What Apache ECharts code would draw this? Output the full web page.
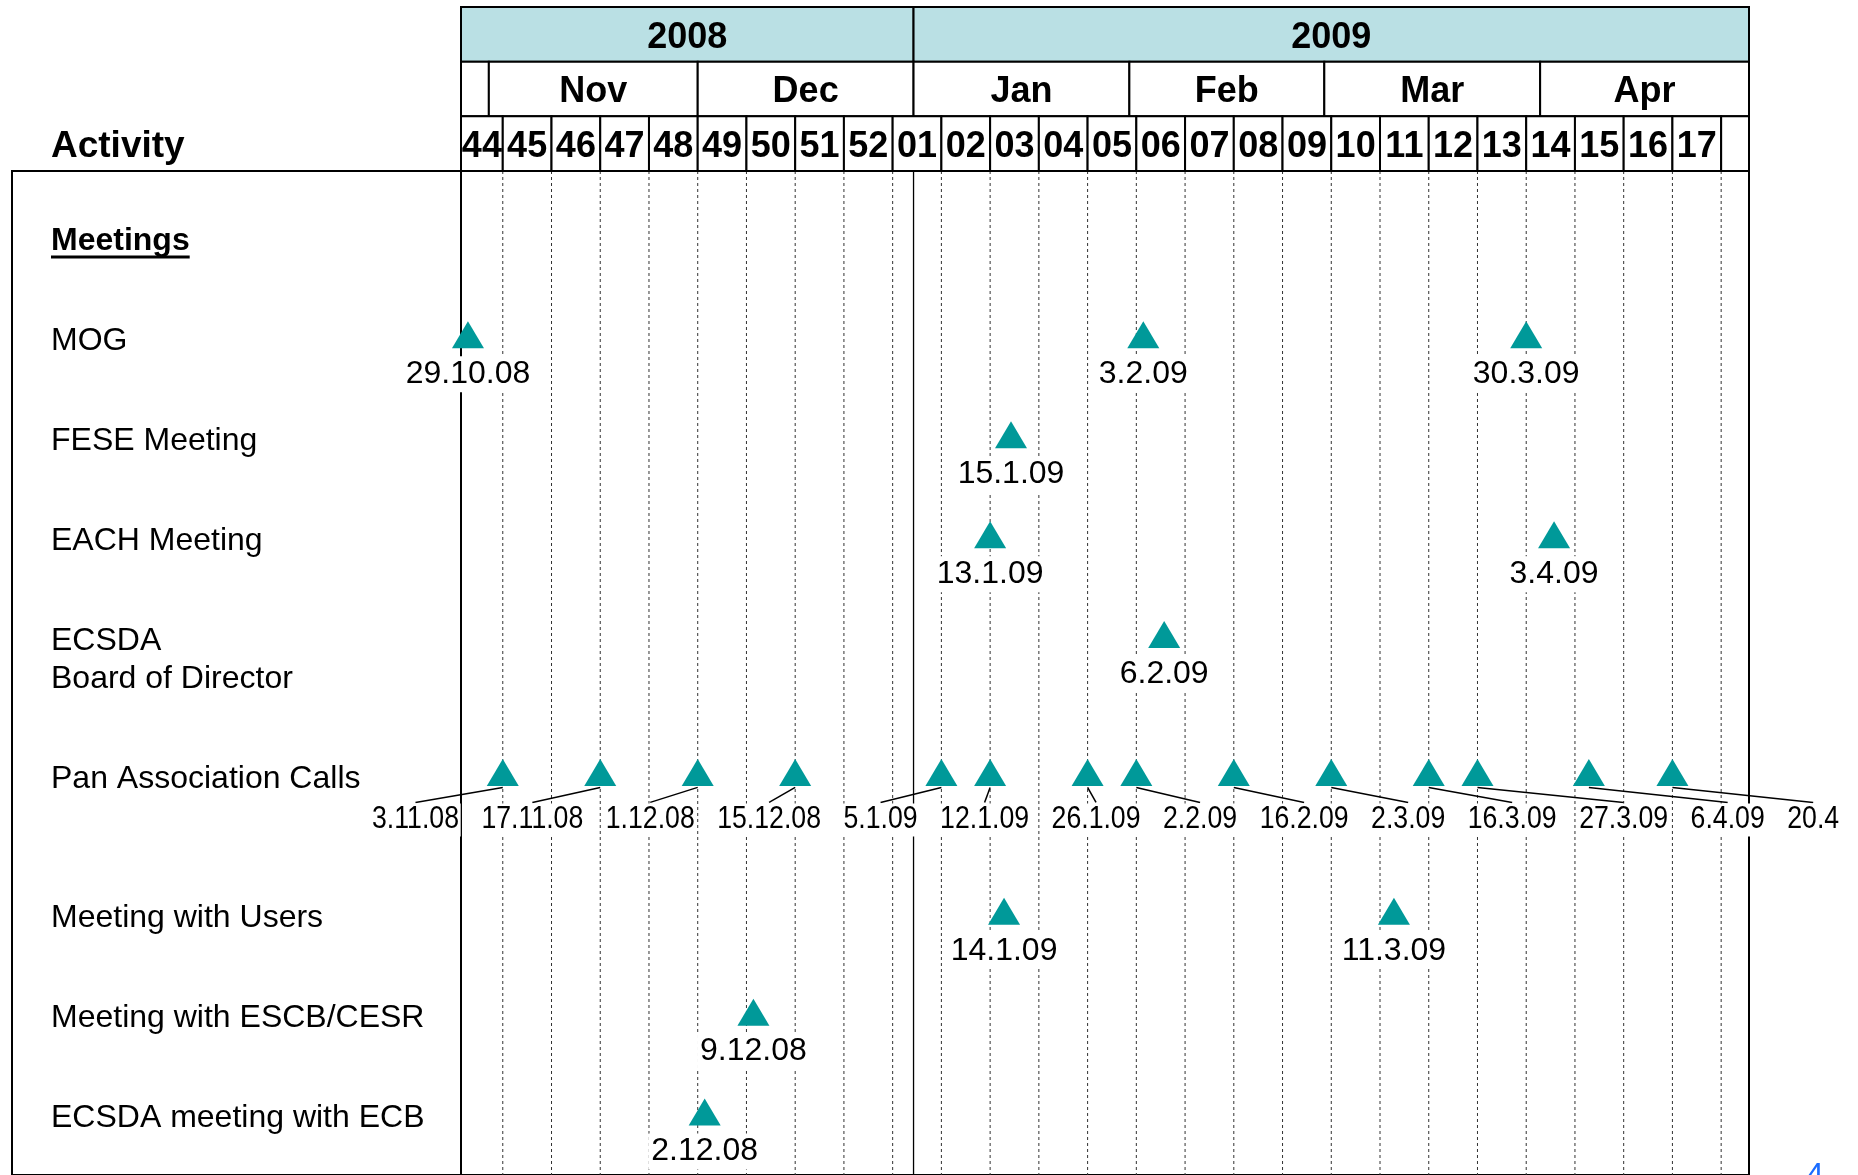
<!DOCTYPE html>
<html>
<head>
<meta charset="utf-8">
<title>Meetings timeline 2008-2009</title>
<script src="https://cdn.jsdelivr.net/npm/echarts@6.0.0/dist/echarts.min.js"></script>
<style>
html, body { margin: 0; padding: 0; background: #fff; }
#main { width: 1858px; height: 1175px; }
</style>
</head>
<body>
<div id="main"></div>
<script>
// time span of the chart
var axisStart = '2008-10-28';
var axisEnd = '2009-05-01';

// header cells: [label, from, to]
var years = [['2008', '2008-10-28', '2009-01-01'], ['2009', '2009-01-01', '2009-05-01']];
var months = [
  ['', '2008-10-28', '2008-11-01'], ['Nov', '2008-11-01', '2008-12-01'], ['Dec', '2008-12-01', '2009-01-01'],
  ['Jan', '2009-01-01', '2009-02-01'], ['Feb', '2009-02-01', '2009-03-01'], ['Mar', '2009-03-01', '2009-04-01'],
  ['Apr', '2009-04-01', '2009-05-01']
];
var weekLabels = ['44', '45', '46', '47', '48', '49', '50', '51', '52', '01', '02', '03', '04', '05', '06', '07', '08', '09',
  '10', '11', '12', '13', '14', '15', '16', '17', ''];
var weekStarts = ['2008-10-28', '2008-11-03', '2008-11-10', '2008-11-17', '2008-11-24', '2008-12-01', '2008-12-08',
  '2008-12-15', '2008-12-22', '2008-12-29', '2009-01-05', '2009-01-12', '2009-01-19', '2009-01-26', '2009-02-02',
  '2009-02-09', '2009-02-16', '2009-02-23', '2009-03-02', '2009-03-09', '2009-03-16', '2009-03-23', '2009-03-30',
  '2009-04-06', '2009-04-13', '2009-04-20', '2009-04-27'];
var yearStart = '2009-01-01';

// activity rows
var rowNames = ['Meetings', 'MOG', 'FESE Meeting', 'EACH Meeting', 'ECSDA\nBoard of Director', 'Pan Association Calls',
  'Meeting with Users', 'Meeting with ESCB/CESR', 'ECSDA meeting with ECB'];
var rowSlots = [0, 1, 2, 3, 4, 5.38, 6.77, 7.78, 8.78];

// events per row: [date, label]
var mog = [['2008-10-29', '29.10.08'], ['2009-02-03', '3.2.09'], ['2009-03-30', '30.3.09']];
var fese = [['2009-01-15', '15.1.09']];
var eachMeeting = [['2009-01-12', '13.1.09'], ['2009-04-03', '3.4.09']];
var ecsdaBoard = [['2009-02-06', '6.2.09']];
var panCalls = [['2008-11-03', '3.11.08'], ['2008-11-17', '17.11.08'], ['2008-12-01', '1.12.08'], ['2008-12-15', '15.12.08'],
  ['2009-01-05', '5.1.09'], ['2009-01-12', '12.1.09'], ['2009-01-26', '26.1.09'], ['2009-02-02', '2.2.09'],
  ['2009-02-16', '16.2.09'], ['2009-03-02', '2.3.09'], ['2009-03-16', '16.3.09'], ['2009-03-23', '27.3.09'],
  ['2009-04-08', '6.4.09'], ['2009-04-20', '20.4']];
var users = [['2009-01-14', '14.1.09'], ['2009-03-11', '11.3.09']];
var escb = [['2008-12-09', '9.12.08']];
var ecb = [['2008-12-02', '2.12.08']];

var FONT = '"Liberation Sans", Arial, sans-serif';
var TEAL = '#009999';

function day(s) {
  var p = s.split('-');
  return new Date(+p[0], +p[1] - 1, +p[2]).getTime();
}

var ctx = document.createElement('canvas').getContext('2d');
function textW(font, s) { ctx.font = font; return ctx.measureText(s).width; }
// pan call labels use a narrow face; squeeze the regular one if it is missing
var narrowOk = textW('31px "Liberation Sans Narrow", monospace', 'mmmm 01239') !== textW('31px monospace', 'mmmm 01239');
var panFamily = narrowOk ? '"Liberation Sans Narrow", "Arial Narrow"' : FONT;
var panScale = narrowOk ? 1 : 0.86;
var panSize = 31;

function cellSeries(cells, row, fill) {
  return {
    type: 'custom', xAxisIndex: 0, yAxisIndex: 0, silent: true,
    encode: { x: [0, 1], y: 2 },
    data: cells.map(function (c) { return [day(c[1]), day(c[2]), row]; }),
    renderItem: function (params, api) {
      var a = api.coord([api.value(0), api.value(2)]);
      var b = api.coord([api.value(1), api.value(2) + 1]);
      return {
        type: 'group', children: [
          { type: 'rect', shape: { x: a[0], y: a[1], width: b[0] - a[0], height: b[1] - a[1] },
            style: { fill: fill, stroke: '#000', lineWidth: 2 } },
          { type: 'text', x: (a[0] + b[0]) / 2, y: (a[1] + b[1]) / 2 + 3.5,
            style: { text: cells[params.dataIndex][0], fontFamily: FONT, fontSize: 36, fontWeight: 'bold',
              fill: '#000', align: 'center', verticalAlign: 'middle' } }
        ]
      };
    }
  };
}

var weekCells = weekLabels.map(function (w, i) {
  return [w, weekStarts[i], i + 1 < weekStarts.length ? weekStarts[i + 1] : axisEnd];
});

var meetingRows = [[1, mog], [2, fese], [3, eachMeeting], [4, ecsdaBoard], [6, users], [7, escb], [8, ecb]];
var meetingData = [];
meetingRows.forEach(function (r) {
  r[1].forEach(function (e) {
    meetingData.push({ value: [day(e[0]), rowSlots[r[0]]], name: e[1] });
  });
});
var panSlot = rowSlots[5];

var lineData = weekStarts.slice(1).map(function (d) { return [day(d), 0]; });
lineData.push([day(yearStart), 1]);

var panX = 0;

var chart = echarts.init(document.getElementById('main'));
var option = {
  animation: false,
  backgroundColor: '#fff',
  title: [
    { text: 'Activity', left: 51, top: 128.5, padding: 0,
      textStyle: { fontFamily: FONT, fontSize: 37, fontWeight: 'bold', color: '#000' } },
    { text: '4', left: 1806, top: 1160, padding: 0,
      textStyle: { fontFamily: FONT, fontSize: 32, fontWeight: 'normal', color: '#1a6cff' } }
  ],
  grid: [
    { left: 461, width: 1288, top: 7, height: 164 },
    { left: 461, width: 1288, top: 171, height: 1004, show: true, borderColor: '#000', borderWidth: 2 },
    { left: 12, width: 449, top: 171, height: 1004, show: true, borderColor: '#000', borderWidth: 2 }
  ],
  xAxis: [
    { type: 'time', gridIndex: 0, min: day(axisStart), max: day(axisEnd), show: false },
    { type: 'time', gridIndex: 1, min: day(axisStart), max: day(axisEnd), show: false },
    { type: 'value', gridIndex: 2, min: 0, max: 1, show: false }
  ],
  yAxis: [
    { type: 'value', gridIndex: 0, min: 0, max: 3, inverse: true, show: false },
    { type: 'value', gridIndex: 1, min: -0.67, max: 9.38, inverse: true, show: false },
    { type: 'value', gridIndex: 2, min: -0.67, max: 9.38, inverse: true, show: false }
  ],
  series: [
    cellSeries(years, 0, '#bae0e4'),
    cellSeries(months, 1, '#fff'),
    cellSeries(weekCells, 2, '#fff'),
    {
      type: 'custom', xAxisIndex: 1, yAxisIndex: 1, silent: true, z: 1,
      data: lineData,
      renderItem: function (params, api) {
        var x = api.coord([api.value(0), 0])[0];
        var cs = params.coordSys;
        var solid = api.value(1) === 1;
        return { type: 'line', shape: { x1: x, y1: cs.y, x2: x, y2: cs.y + cs.height + 10 },
          style: { stroke: solid ? '#000' : '#333', lineWidth: solid ? 1.3 : 1, lineDash: solid ? null : [3, 3] } };
      }
    },
    {
      type: 'custom', xAxisIndex: 2, yAxisIndex: 2, silent: true,
      data: rowSlots.map(function (s) { return [0, s]; }),
      renderItem: function (params, api) {
        var p = api.coord([0, api.value(1)]);
        var head = params.dataIndex === 0;
        var name = rowNames[params.dataIndex];
        var x = p[0] + 39;
        var kids = [{ type: 'text', x: x, y: p[1] - 15.5,
          style: { text: name, fontFamily: FONT, fontSize: 32, fontWeight: head ? 'bold' : 'normal',
            fill: '#000', align: 'left', verticalAlign: 'top', lineHeight: 38 } }];
        if (head) {
          var w = textW('bold 32px ' + FONT, name);
          kids.push({ type: 'rect', shape: { x: x, y: p[1] + 17.5, width: w, height: 3 }, style: { fill: '#000' } });
        }
        return { type: 'group', children: kids };
      }
    },
    {
      type: 'custom', xAxisIndex: 1, yAxisIndex: 1, silent: true, z: 3,
      data: panCalls.map(function (e) { return [day(e[0]), panSlot]; }),
      renderItem: function (params, api) {
        if (params.dataIndex === 0) panX = 372;
        var p = api.coord([api.value(0), api.value(1)]);
        var label = panCalls[params.dataIndex][1];
        var w = textW(panSize + 'px ' + panFamily, label) * panScale;
        var cx = panX + w / 2;
        panX += w + 22.5;
        return {
          type: 'group', children: [
            { type: 'line', shape: { x1: p[0], y1: p[1] + 12, x2: cx, y2: p[1] + 27 },
              style: { stroke: '#000', lineWidth: 1.5 } },
            { type: 'text', x: cx, y: p[1] + 28, scaleX: panScale,
              style: { text: label, fontFamily: panFamily, fontSize: panSize, fill: '#000', align: 'center',
                verticalAlign: 'top', backgroundColor: '#fff', padding: [1, 2] } }
          ]
        };
      }
    },
    {
      type: 'scatter', xAxisIndex: 1, yAxisIndex: 1, silent: true, z: 5,
      symbol: 'triangle', symbolSize: [32, 27], symbolOffset: [0, -3],
      itemStyle: { color: TEAL, opacity: 1 },
      data: meetingData,
      label: { show: true, position: 'bottom', distance: 8, formatter: '{b}', fontFamily: FONT, fontSize: 32,
        color: '#000', backgroundColor: '#fff', padding: [2, 3] }
    },
    {
      type: 'scatter', xAxisIndex: 1, yAxisIndex: 1, silent: true, z: 5,
      symbol: 'triangle', symbolSize: [32, 27], symbolOffset: [0, -3],
      itemStyle: { color: TEAL, opacity: 1 },
      data: panCalls.map(function (e) { return [day(e[0]), panSlot]; })
    }
  ]
};
chart.setOption(option);
</script>
</body>
</html>
